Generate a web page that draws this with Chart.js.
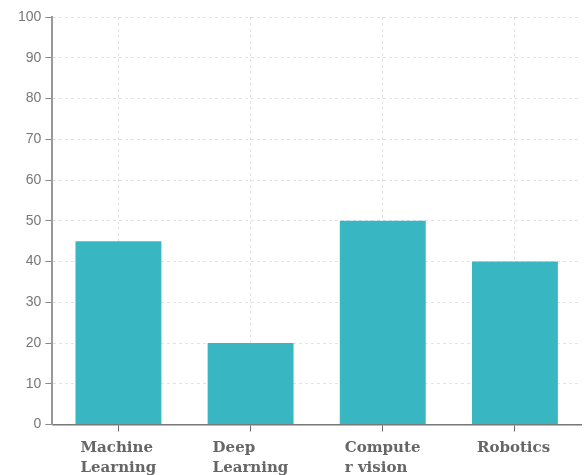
<!DOCTYPE html>
<html>
<head>
<meta charset="utf-8">
<script src="https://cdn.jsdelivr.net/npm/chart.js@4/dist/chart.umd.min.js"></script>
<style>
  html, body { margin: 0; padding: 0; background: #fff; }
  #wrap { width: 586px; height: 475px; }
</style>
</head>
<body>
<div id="wrap"><canvas id="chart"></canvas></div>
<script>
// Data
const categories = [['Machine', 'Learning'], ['Deep', 'Learning'], ['Compute', 'r vision'], ['Robotics']];
const values = [45, 20, 50, 40];
const yTicks = [0, 10, 20, 30, 40, 50, 60, 70, 80, 90, 100];

const ctx = document.getElementById('chart').getContext('2d');
new Chart(ctx, {
    type: 'bar',
    data: {
        labels: categories,
        datasets: [{
            data: values,
            backgroundColor: '#38b6c1',
            borderWidth: 0,
            barPercentage: 0.65,
            categoryPercentage: 1.0
        }]
    },
    options: {
        responsive: true,
        maintainAspectRatio: false,
        animation: false,
        layout: { padding: { top: 17, right: 5, left: 14, bottom: -9 } },
        plugins: {
            legend: { display: false },
            tooltip: { enabled: false }
        },
        scales: {
            x: {
                // labels are left-aligned, so don't reserve room for the last one
                afterFit: (axis) => { axis.paddingRight = 0; },
                grid: {
                    offset: false,
                    color: '#e3e3e3',
                    tickLength: 7,
                    tickColor: '#666',
                    tickBorderDash: []
                },
                border: { color: '#777', width: 1.5, dash: [3, 3] },
                ticks: {
                    align: 'start',
                    labelOffset: -38,
                    padding: 6,
                    color: '#666',
                    font: { family: 'DejaVu Serif', weight: 'bold', size: 15, lineHeight: 1.35 }
                }
            },
            y: {
                min: 0,
                max: 100,
                afterBuildTicks: (axis) => { axis.ticks = yTicks.map(v => ({ value: v })); },
                grid: {
                    color: '#e3e3e3',
                    tickLength: 7,
                    tickColor: '#888',
                    tickBorderDash: []
                },
                border: { color: '#999', width: 2, dash: [3, 3] },
                ticks: {
                    padding: 4,
                    color: '#777',
                    font: { family: 'Liberation Sans', size: 14 }
                }
            }
        }
    }
});
</script>
</body>
</html>
